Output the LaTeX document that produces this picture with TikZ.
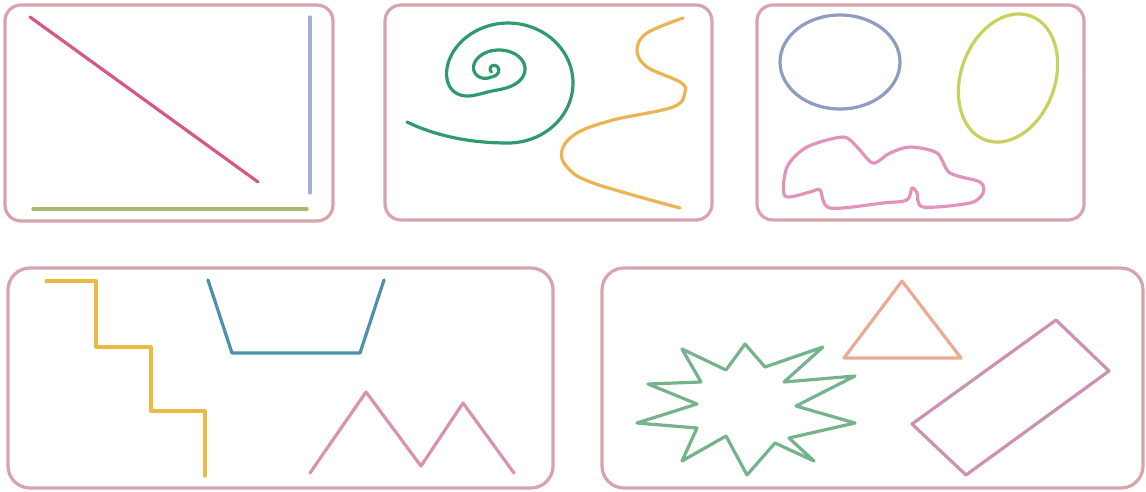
\documentclass[tikz,border=0pt]{standalone}
\usepackage{tikz}
\definecolor{panelpink}{HTML}{D9A3AC}
\definecolor{diagred}{HTML}{D45A82}
\definecolor{vertblue}{HTML}{9DB2D2}
\definecolor{horizgreen}{HTML}{A9B86E}
\definecolor{spiralgreen}{HTML}{2F9A6C}
\definecolor{waveorange}{HTML}{EBB352}
\definecolor{ovalblue}{HTML}{8E9CC2}
\definecolor{ovalyellow}{HTML}{C9D15E}
\definecolor{cloudpink}{HTML}{E293BA}
\definecolor{stairyellow}{HTML}{EBBA45}
\definecolor{troughblue}{HTML}{4C91A9}
\definecolor{zigpink}{HTML}{DA93AA}
\definecolor{stargreen}{HTML}{74B38C}
\definecolor{triorange}{HTML}{EBAA92}
\definecolor{rectpink}{HTML}{CB92B2}
\tikzset{
    panel/.style={draw=panelpink, line width=3.2pt, rounded corners=16pt},
    widepanel/.style={draw=panelpink, line width=3.2pt, rounded corners=22pt},
    stroke/.style={line width=3.2pt, line cap=round, line join=round},
    declare function={sg(\u)=1/(1+exp(-max(-9,min(9,\u))));},
}

\begin{document}
\begin{tikzpicture}[x=1pt, y=-1pt]
\useasboundingbox (0,0) rectangle (1146,491);

% Panels
\draw[panel] (5,5) rectangle (333,221);
\draw[panel] (385,5) rectangle (712,220);
\draw[panel] (757,5) rectangle (1084,220);
\draw[widepanel] (8,268) rectangle (553,488);
\draw[widepanel] (602,268) rectangle (1143,488);

% Straight lines
\draw[stroke, diagred] (30,17) -- (258,182);
\draw[stroke, vertblue] (310,17) -- (310,193);
\draw[stroke, horizgreen] (33,209) -- (307,209);

% Spiral and wave
\draw[stroke, spiralgreen] plot[domain=-4:14.137, samples=280, smooth, variable=\t]
    ({493+6*sg((\t-2.36)/0.25)+9*sg((\t-8.9)/0.3)
      +(2+4*sg((\t+2)/0.8)+20*sg((\t-2.36)/0.25)+39*sg((\t-8.9)/0.3))*cos(\t r)},
     {70-sg((\t-2.36)/0.25)+14*sg((\t-8.9)/0.3)
      +(2+4*sg((\t+2)/0.8)+13*sg((\t-2.36)/0.25)+41*sg((\t-8.9)/0.3))*sin(\t r)})
    .. controls (470,143) and (436,136) .. (407,122);
\draw[stroke, waveorange] plot[smooth, tension=0.6] coordinates {
    (683,18) (647,33) (637,50) (647,67) (680,82) (685,92) (673,107)
    (613,120) (577,133) (562,150) (567,167) (593,183) (680,208)};

% Ovals and cloud
\draw[stroke, ovalblue] (840,62) ellipse [x radius=60, y radius=47];
\draw[stroke, ovalyellow] plot[domain=0:360, samples=90, smooth cycle, variable=\t]
    ({1008+47*cos(\t)*cos(20)-66*sin(\t)*sin(20)}, {78+47*cos(\t)*sin(20)+66*sin(\t)*cos(20)});
\draw[stroke, cloudpink] plot[smooth cycle, tension=0.5] coordinates {
    (785,196) (787,167) (807,147) (843,137) (857,147) (873,163) (890,153)
    (910,147) (937,153) (950,173) (980,182) (983,193) (970,203) (923,207)
    (917,193) (912,188) (907,200) (883,203) (830,208) (820,190) (810,192)};

% Stairs, trough and zigzag
\draw[stroke, stairyellow] (46,281) -- (96,281) -- (96,347) -- (151,347)
    -- (151,411) -- (205,411) -- (205,476);
\draw[stroke, troughblue] (208,280) -- (232,353) -- (360,353) -- (384,280);
\draw[stroke, zigpink] (310,473) -- (366,392) -- (421,466) -- (463,403) -- (514,473);

% Star, triangle and tilted box
\draw[stroke, stargreen] (682,349) -- (726,370) -- (745,344) -- (765,367)
    -- (823,347) -- (784,382) -- (855,376) -- (796,406) -- (855,423)
    -- (789,438) -- (814,461) -- (775,443) -- (747,475) -- (726,436)
    -- (682,461) -- (697,428) -- (637,423) -- (697,404) -- (648,384)
    -- (701,382) -- cycle;
\draw[stroke, triorange] (902,281) -- (961,358) -- (844,358) -- cycle;
\draw[stroke, rectpink] (1056,320) -- (1109,371) -- (966,475) -- (912,424) -- cycle;

\end{tikzpicture}
\end{document}
